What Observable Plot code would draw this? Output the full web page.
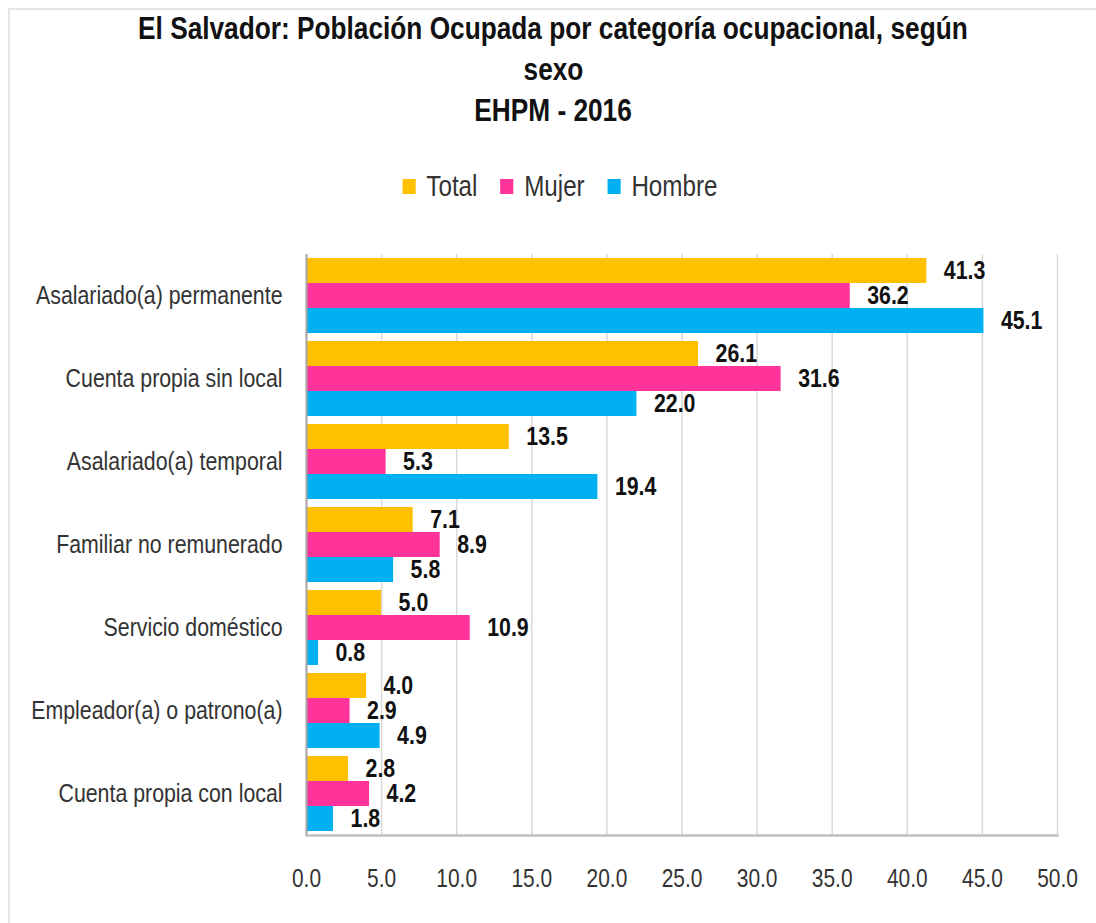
<!DOCTYPE html>
<html>
<head>
<meta charset="utf-8">
<script src="https://cdn.jsdelivr.net/npm/d3@7"></script>
<script src="https://cdn.jsdelivr.net/npm/@observablehq/plot@0.6"></script>
<style>
  html, body { margin: 0; padding: 0; background: #fff; }
  #wrap { position: relative; width: 1096px; height: 923px; overflow: hidden; background: #fff;
    font-family: "Liberation Sans", Arial, sans-serif; }
  #frame { position: absolute; left: 8px; top: 8px; width: 1200px; height: 1000px;
    border-top: 2px solid #e4e4e4; border-left: 2px solid #e4e4e4; }
  #title { position: absolute; left: 0; top: 8px; width: 1106px; text-align: center;
    font-weight: bold; font-size: 32px; line-height: 41px; color: #111; }
  #title span { display: inline-block; transform: scaleX(0.82); transform-origin: 50% 50%; white-space: nowrap; }
  #legend { position: absolute; left: 0; top: 171px; width: 1120px; display: flex; justify-content: center;
    align-items: center; font-size: 29.5px; line-height: 30px; color: #333;
    transform: scaleX(0.82); transform-origin: 560px 50%; }
  .item { display: flex; align-items: center; margin: 0 14px; }
  .sw { width: 16px; height: 15px; margin-right: 13px; }
  #chart { position: absolute; left: 0; top: 220px; }
</style>
</head>
<body>
<div id="wrap">
  <div id="frame"></div>
  <div id="title"><span>El Salvador: Población Ocupada por categoría ocupacional, según</span><br><span>sexo</span><br><span>EHPM - 2016</span></div>
  <div id="legend"></div>
  <div id="chart"></div>
</div>
<script>
const categories = [
  "Asalariado(a) permanente",
  "Cuenta propia sin local",
  "Asalariado(a) temporal",
  "Familiar no remunerado",
  "Servicio doméstico",
  "Empleador(a) o patrono(a)",
  "Cuenta propia con local"
];
const series = ["Total", "Mujer", "Hombre"];
const total  = [41.3, 26.1, 13.5, 7.1, 5.0, 4.0, 2.8];
const mujer  = [36.2, 31.6, 5.3, 8.9, 10.9, 2.9, 4.2];
const hombre = [45.1, 22.0, 19.4, 5.8, 0.8, 4.9, 1.8];
const colors = ["#FFC000", "#FF3399", "#00B0F0"];
const xTicks = [0, 5, 10, 15, 20, 25, 30, 35, 40, 45, 50];

const values = [total, mujer, hombre];
const data = categories.flatMap((c, i) =>
  series.map((s, j) => ({categoria: c, serie: s, valor: values[j][i]}))
);

// legend
const legend = document.getElementById("legend");
series.forEach((s, j) => {
  const item = document.createElement("div");
  item.className = "item";
  const sw = document.createElement("span");
  sw.className = "sw";
  sw.style.background = colors[j];
  const t = document.createElement("span");
  t.textContent = s;
  item.appendChild(sw);
  item.appendChild(t);
  legend.appendChild(item);
});

const fontFamily = '"Liberation Sans", Arial, sans-serif';

const chart = Plot.plot({
  width: 1096,
  height: 703,
  marginLeft: 306,
  marginRight: 39,
  marginTop: 33,
  marginBottom: 88,
  style: {fontFamily, fontSize: "25.5px", color: "#333", background: "transparent", overflow: "visible"},
  x: {domain: [0, 50]},
  y: {domain: series, axis: null, paddingInner: 0, paddingOuter: 0.1},
  fy: {domain: categories, padding: 0, label: null},
  color: {domain: series, range: colors},
  marks: [
    Plot.gridX(xTicks, {stroke: "#d9d9d9", strokeOpacity: 1, strokeWidth: 1.5}),
    Plot.barX(data, {x: "valor", y: "serie", fy: "categoria", fill: "serie"}),
    Plot.ruleX([0], {stroke: "#a6a6a6", strokeWidth: 2}),
    Plot.frame({anchor: "bottom", facetAnchor: "bottom", stroke: "#bfbfbf", strokeWidth: 2.5}),
    Plot.text(data, {
      x: "valor", y: "serie", fy: "categoria",
      text: d => d.valor.toFixed(1),
      textAnchor: "start", dx: 17,
      fontWeight: "bold", fontSize: 26, fill: "#111"
    }),
    Plot.axisX({ticks: xTicks, tickFormat: d => d.toFixed(1), tickSize: 0, tickPadding: 33, label: null, fontSize: 25.5}),
    Plot.axisFy({anchor: "left", tickSize: 0, tickPadding: 24, label: null, fontSize: 26})
  ]
});

document.getElementById("chart").appendChild(chart);

// condense SVG text horizontally (Arial Narrow look)
chart.querySelectorAll("text").forEach(t => {
  const w = t.getComputedTextLength();
  if (w > 0) {
    t.setAttribute("textLength", (w * 0.82).toFixed(2));
    t.setAttribute("lengthAdjust", "spacingAndGlyphs");
  }
});
</script>
</body>
</html>
